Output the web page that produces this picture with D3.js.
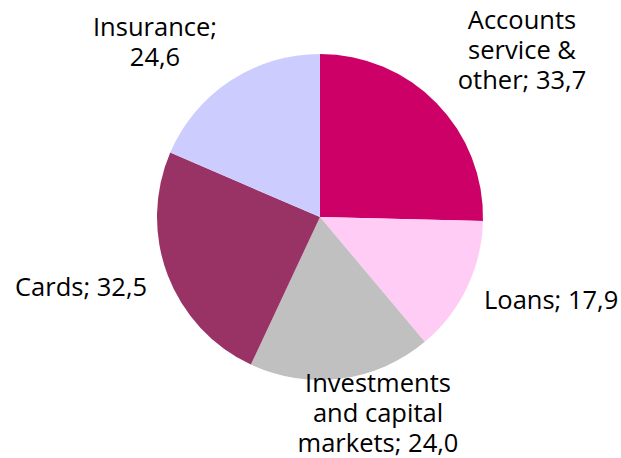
<!DOCTYPE html>
<html>
<head>
<meta charset="utf-8">
<script src="https://cdn.jsdelivr.net/npm/d3@7"></script>
<style>
  body { margin: 0; background: #fff; }
  svg text { font-family: "Open Sans", sans-serif; font-size: 25.5px; fill: #000; }
</style>
</head>
<body>
<div id="chart"></div>
<script>
var categories = ["Accounts service & other", "Loans", "Investments and capital markets", "Cards", "Insurance"];
var values = [33.7, 17.9, 24.0, 32.5, 24.6];
var colors = ["#cc0066", "#ffccf5", "#c0c0c0", "#993366", "#ccccff"];
// label text lines, as in the picture
var labelLines = [
  ["Accounts", "service &", "other; 33,7"],
  ["Loans; 17,9"],
  ["Investments", "and capital", "markets; 24,0"],
  ["Cards; 32,5"],
  ["Insurance;", "24,6"]
];

var width = 621, height = 458;
var cx = 320, cy = 217, r = 163;
var lineH = 30;

// label anchors (x, y of the block centre) and text-anchor
var labelPos = [
  {x: 522, y: 50, anchor: "middle"},
  {x: 484, y: 300, anchor: "start"},
  {x: 378, y: 413, anchor: "middle"},
  {x: 15, y: 287, anchor: "start"},
  {x: 155, y: 42, anchor: "middle"}
];

var data = categories.map(function(c, i) {
  return {name: c, value: values[i], color: colors[i], lines: labelLines[i], pos: labelPos[i]};
});

var svg = d3.select("#chart").append("svg")
  .attr("width", width)
  .attr("height", height);

var pie = d3.pie().sort(null).value(function(d) { return d.value; });
var arc = d3.arc().innerRadius(0).outerRadius(r);

var g = svg.append("g").attr("transform", "translate(" + cx + "," + cy + ")");

g.selectAll("path")
  .data(pie(data))
  .enter().append("path")
  .attr("d", arc)
  .style("fill", function(d) { return d.data.color; });

var labels = svg.selectAll("text.lbl")
  .data(data)
  .enter().append("text")
  .attr("class", "lbl")
  .attr("text-anchor", function(d) { return d.pos.anchor; });

labels.each(function(d) {
  var t = d3.select(this);
  var n = d.lines.length;
  d.lines.forEach(function(line, j) {
    t.append("tspan")
      .attr("x", d.pos.x)
      .attr("y", d.pos.y + (j - (n - 1) / 2) * lineH)
      .attr("dy", "0.35em")
      .text(line);
  });
});
</script>
</body>
</html>
